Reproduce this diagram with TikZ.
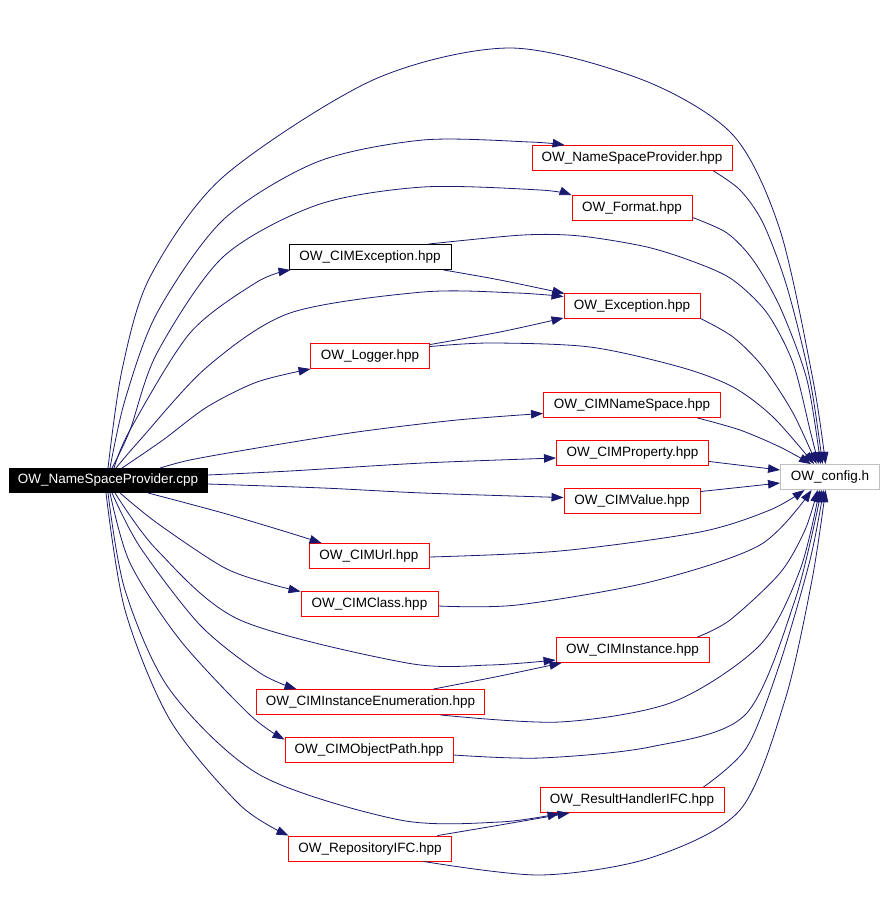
\documentclass[tikz,border=0pt]{standalone}
\usepackage{fontspec}
\setmainfont{Liberation Sans}
\usetikzlibrary{arrows.meta}
\definecolor{edgec}{HTML}{191970}
\definecolor{cfggray}{HTML}{BFBFBF}
\begin{document}
\begin{tikzpicture}[x=1pt,y=-1pt,
  box/.style={draw=red, line width=0.9pt, rectangle, inner sep=0pt, minimum height=25pt, font=\fontsize{13.5}{15}\selectfont, text=black},
  dep/.style={draw=edgec, line width=0.8pt, -{Triangle[length=12pt,width=8.5pt]}},
]
\useasboundingbox (0,0) rectangle (885,900);
\fill[white] (0,0) rectangle (885,900);

% nodes
\node[box, draw=black, fill=black, text=white, minimum width=198pt, minimum height=24pt] (main) at (108,480.5) {OW\_NameSpaceProvider.cpp};
\node[box, minimum width=200pt] (nsp) at (632,158) {OW\_NameSpaceProvider.hpp};
\node[box, minimum width=120pt] (fmt) at (632,208) {OW\_Format.hpp};
\node[box, draw=black, minimum width=162pt] (cimexc) at (370,257) {OW\_CIMException.hpp};
\node[box, minimum width=136pt] (exc) at (632,306) {OW\_Exception.hpp};
\node[box, minimum width=119pt] (log) at (370,356) {OW\_Logger.hpp};
\node[box, minimum width=177pt] (cns) at (632,405) {OW\_CIMNameSpace.hpp};
\node[box, minimum width=152pt] (cprop) at (632.5,453) {OW\_CIMProperty.hpp};
\node[box, minimum width=136pt] (cval) at (632,501) {OW\_CIMValue.hpp};
\node[box, draw=cfggray, minimum width=99pt] (cfg) at (830,477) {OW\_config.h};
\node[box, minimum width=120pt] (curl) at (369,556) {OW\_CIMUrl.hpp};
\node[box, minimum width=137pt] (ccls) at (369.5,604) {OW\_CIMClass.hpp};
\node[box, minimum width=153pt] (cinst) at (632.5,650) {OW\_CIMInstance.hpp};
\node[box, minimum width=228pt] (cenum) at (370.5,702) {OW\_CIMInstanceEnumeration.hpp};
\node[box, minimum width=168pt] (cop) at (369,750) {OW\_CIMObjectPath.hpp};
\node[box, minimum width=184pt] (rh) at (632,800) {OW\_ResultHandlerIFC.hpp};
\node[box, minimum width=163pt] (rep) at (370,848.5) {OW\_RepositoryIFC.hpp};

% edges from main
\draw[dep] plot[smooth] coordinates {([shift={(0,0)}]main.north) (122,370) (150,277) (223,177) (373,80) (510,48) (643,80) (733,135) (780,230) (813,380) ([shift={(45.5,0)}]cfg.north west)};
\draw[dep] plot[smooth] coordinates {([shift={(2,0)}]main.north) (125,400) (157,313) (223,220) (317,162) (423,140) (530,142) ([shift={(33,0)}]nsp.north west)};
\draw[dep] plot[smooth] coordinates {([shift={(4,0)}]main.north) (130,430) (157,353) (223,257) (317,205) (423,187) (540,190) (fmt.north west)};
\draw[dep] plot[smooth] coordinates {([shift={(6,0)}]main.north) (130,430) (190,333) (257,282) ([shift={(2,0)}]cimexc.south west)};
\draw[dep] plot[smooth] coordinates {([shift={(8,0)}]main.north) (140,440) (207,367) (290,313) (423,292) (517,293) ([shift={(0,3.5)}]exc.north west)};
\draw[dep] plot[smooth] coordinates {([shift={(14,0)}]main.north) (163,440) (207,407) (257,382) ([shift={(0.5,0)}]log.south west)};
\draw[dep] plot[smooth] coordinates {([shift={(52,0)}]main.north) (190,460) (257,448) (357,432) (457,420) ([shift={(0,-4.5)}]cns.south west)};
\draw[dep] plot[smooth] coordinates {([shift={(0,-5.5)}]main.east) (290,471) (423,463) ([shift={(0,5)}]cprop.west)};
\draw[dep] plot[smooth] coordinates {([shift={(0,3.5)}]main.east) (323,488) (423,493) ([shift={(0,9.5)}]cval.north west)};
\draw[dep] plot[smooth] coordinates {([shift={(40,0)}]main.south) (223,513) (290,533) ([shift={(13,0)}]curl.north west)};
\draw[dep] plot[smooth] coordinates {([shift={(12,0)}]main.south) (157,523) (223,567) (267,583) ([shift={(0,0.5)}]ccls.north west)};
\draw[dep] plot[smooth] coordinates {([shift={(7,0)}]main.south) (157,550) (240,620) (407,663) (490,665) ([shift={(0,10)}]cinst.west)};
\draw[dep] plot[smooth] coordinates {([shift={(4,0)}]main.south) (140,547) (200,625) (260,673) ([shift={(40.5,0)}]cenum.north west)};
\draw[dep] plot[smooth] coordinates {([shift={(2,0)}]main.south) (130,563) (180,640) (250,715) ([shift={(0,2.5)}]cop.north west)};
\draw[dep] plot[smooth] coordinates {([shift={(0,0)}]main.south) (125,590) (170,690) (260,775) (400,820) (500,822) ([shift={(20,0.5)}]rh.south west)};
\draw[dep] plot[smooth] coordinates {([shift={(-2,0)}]main.south) (125,610) (170,720) (240,805) ([shift={(0.5,0)}]rep.north west)};

% edges to config.h
\draw[dep] plot[smooth] coordinates {([shift={(-19,0)}]nsp.south east) (740,190) (763,223) (787,287) (810,380) ([shift={(42.5,0)}]cfg.north west)};
\draw[dep] plot[smooth] coordinates {([shift={(0,-3.5)}]fmt.south east) (727,233) (753,260) (780,307) (807,380) ([shift={(40.5,0)}]cfg.north west)};
\draw[dep] plot[smooth] coordinates {([shift={(-23,0)}]cimexc.north east) (523,235) (580,236) (647,247) (697,263) (733,280) (767,313) (793,363) (810,430) ([shift={(38.5,0)}]cfg.north west)};
\draw[dep] plot[smooth] coordinates {([shift={(0,-0.5)}]exc.south east) (733,337) (763,367) (793,413) ([shift={(36.5,0)}]cfg.north west)};
\draw[dep] plot[smooth] coordinates {([shift={(0,3.5)}]log.north east) (490,343) (590,347) (680,367) (733,387) (773,417) ([shift={(34,0)}]cfg.north west)};
\draw[dep] plot[smooth] coordinates {([shift={(-23.5,0)}]cns.south east) (740,430) (780,447) ([shift={(31,0)}]cfg.north west)};
\draw[dep] ([shift={(0,-4.5)}]cprop.south east) -- ([shift={(0,-7)}]cfg.west);
\draw[dep] ([shift={(0,3.5)}]cval.north east) -- ([shift={(0,6)}]cfg.west);
\draw[dep] plot[smooth] coordinates {([shift={(0,1)}]curl.east) (560,551) (700,532) (770,510) ([shift={(24.5,0)}]cfg.south west)};
\draw[dep] plot[smooth] coordinates {([shift={(0,2)}]ccls.east) (517,605) (650,582) (760,545) ([shift={(31.5,0)}]cfg.south west)};
\draw[dep] plot[smooth] coordinates {([shift={(-12,0)}]cinst.north east) (730,620) (780,573) (805,530) ([shift={(37.5,0)}]cfg.south west)};
\draw[dep] plot[smooth] coordinates {([shift={(-44.5,0)}]cenum.south east) (560,722) (673,702) (760,645) (800,570) ([shift={(39.5,0)}]cfg.south west)};
\draw[dep] plot[smooth] coordinates {([shift={(0,5)}]cop.east) (540,758) (650,747) (745,715) (795,600) ([shift={(41.5,0)}]cfg.south west)};
\draw[dep] plot[smooth] coordinates {([shift={(-21,0)}]rh.north east) (747,747) (780,663) (810,560) ([shift={(43.5,0)}]cfg.south west)};
\draw[dep] plot[smooth] coordinates {([shift={(-28.5,0)}]rep.south east) (540,875) (650,858) (740,810) (785,700) (812,580) ([shift={(45.5,0)}]cfg.south west)};

% other edges
\draw[dep] plot[smooth] coordinates {([shift={(-8,0)}]cimexc.south east) (500,280) ([shift={(1,0.5)}]exc.north west)};
\draw[dep] plot[smooth] coordinates {([shift={(0,1.5)}]log.north east) (500,332) ([shift={(0,-1)}]exc.south west)};
\draw[dep] plot[smooth] coordinates {([shift={(-51.5,0)}]cenum.north east) (500,676) ([shift={(6,0)}]cinst.south west)};
\draw[dep] plot[smooth] coordinates {([shift={(-14.5,0)}]rep.north east) (500,825) ([shift={(30,0)}]rh.south west)};
\end{tikzpicture}
\end{document}
